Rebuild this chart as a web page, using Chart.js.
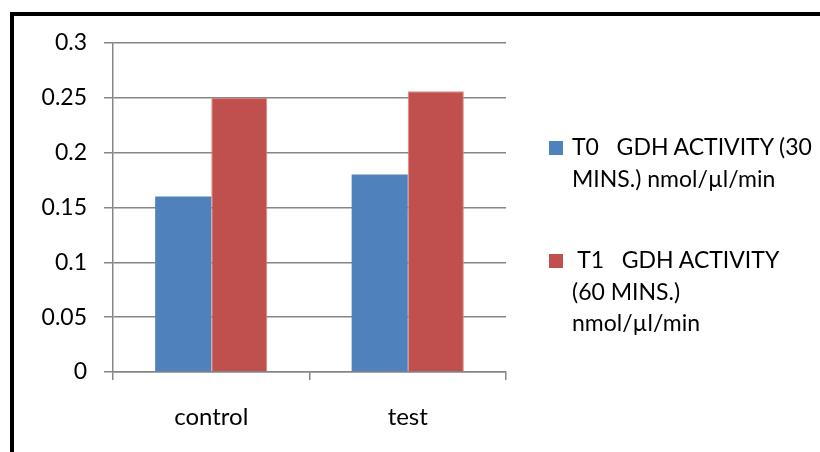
<!DOCTYPE html>
<html>
<head>
<meta charset="utf-8">
<script src="https://cdn.jsdelivr.net/npm/chart.js@4/dist/chart.umd.min.js"></script>
<style>
  html, body { margin: 0; padding: 0; background: #fff; }
  #wrap { position: relative; width: 820px; height: 452px; overflow: hidden; background: #fff; }
  #frame { position: absolute; left: 10px; top: 12px; width: 900px; height: 600px;
           border-top: 4px solid #000; border-left: 4px solid #000; pointer-events: none; }
  canvas { position: absolute; left: 0; top: 0; }
  .leg { position: absolute; left: 549px; font-family: Lato, sans-serif; font-size: 23px;
         line-height: 31.5px; color: #000; }
  .leg .box { position: absolute; left: 0; width: 14px; height: 14px; }
  .leg .txt { position: absolute; left: 23px; white-space: pre; }
</style>
</head>
<body>
<div id="wrap">
  <canvas id="c" width="820" height="452"></canvas>
  <div id="frame"></div>
  <div id="legend"></div>
</div>
<script>
const categories = ["control", "test"];
const t0Values = [0.16, 0.18];
const t1Values = [0.25, 0.256];
const seriesLabels = [
  ["T0   GDH ACTIVITY (30", "MINS.) nmol/\u00b5l/min"],
  [" T1   GDH ACTIVITY", "(60 MINS.)", "nmol/\u00b5l/min"]
];
const yTickLabels = ["0", "0.05", "0.1", "0.15", "0.2", "0.25", "0.3"];
const seriesColors = ["#4F81BD", "#C0504D"];

const font = { family: "Lato, sans-serif", size: 23 };

const chart = new Chart(document.getElementById("c"), {
  type: "bar",
  data: {
    labels: categories,
    datasets: [
      { label: seriesLabels[0], data: t0Values, backgroundColor: seriesColors[0],
        borderWidth: 0, categoryPercentage: 0.571, barPercentage: 1.0 },
      { label: seriesLabels[1], data: t1Values, backgroundColor: seriesColors[1],
        borderColor: "#D98C8A", borderWidth: 1, borderSkipped: "bottom",
        categoryPercentage: 0.571, barPercentage: 1.0 }
    ]
  },
  options: {
    responsive: false,
    animation: false,
    layout: { padding: { top: 43, right: 314, left: 0, bottom: 0 } },
    plugins: { legend: { display: false }, tooltip: { enabled: false } },
    scales: {
      x: {
        offset: true,
        grid: { display: true, offset: true, drawOnChartArea: false, drawTicks: true,
                tickLength: 8, color: "#868686", lineWidth: 1.5 },
        border: { display: true, color: "#868686", width: 1.5 },
        ticks: { color: "#000", font: { family: "Lato, sans-serif", size: 24 }, padding: 23, maxRotation: 0 },
        afterFit: s => { s.height = 80; }
      },
      y: {
        min: 0, max: 0.3,
        ticks: { stepSize: 0.05, color: "#000", font: font, padding: 17,
                 callback: (v, i) => yTickLabels[i] },
        grid: { color: "#868686", lineWidth: 1.5, drawTicks: true, tickLength: 9 },
        border: { display: true, color: "#868686", width: 1.5 },
        afterFit: s => { s.width = 113; }
      }
    }
  }
});

// HTML legend built from the datasets
const legendTops = [131.3, 244.3];
const legendBoxTops = [141, 254];
const legendEl = document.getElementById("legend");
chart.data.datasets.forEach((ds, i) => {
  const item = document.createElement("div");
  item.className = "leg";
  item.style.top = legendTops[i] + "px";
  const box = document.createElement("div");
  box.className = "box";
  box.style.background = ds.backgroundColor;
  box.style.top = (legendBoxTops[i] - legendTops[i]) + "px";
  const txt = document.createElement("div");
  txt.className = "txt";
  txt.textContent = ds.label.join("\n");
  item.appendChild(box);
  item.appendChild(txt);
  legendEl.appendChild(item);
});
</script>
</body>
</html>
